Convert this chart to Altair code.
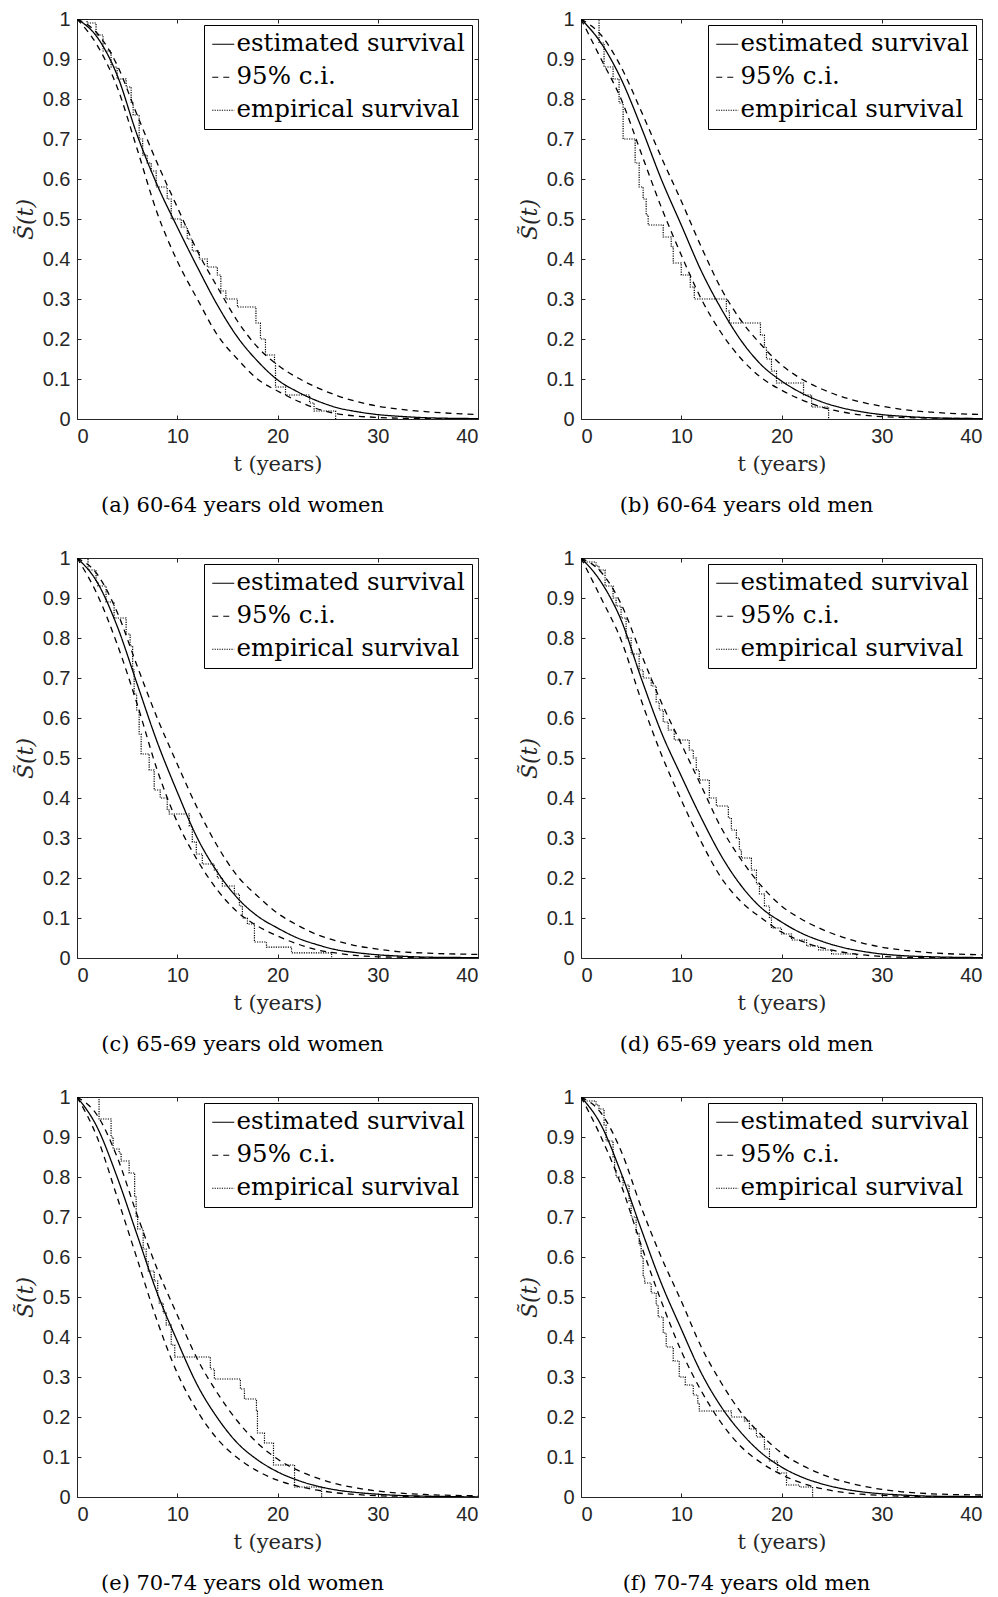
import altair as alt
import pandas as pd

# ---------------- data ----------------
T_SMOOTH = [0, 2, 4, 6, 8, 10, 12, 14, 16, 18, 20, 22, 24, 26, 28, 30, 32, 35, 40]

A_EST = [1.0, 0.955, 0.86, 0.71, 0.585, 0.48, 0.38, 0.285, 0.205, 0.145, 0.098, 0.068, 0.045, 0.028, 0.018, 0.011, 0.007, 0.003, 0.001]
A_LO = [1.0, 0.935, 0.83, 0.675, 0.515, 0.395, 0.30, 0.21, 0.15, 0.10, 0.07, 0.045, 0.025, 0.013, 0.007, 0.004, 0.002, 0.001, 0.0]
A_HI = [1.0, 0.965, 0.885, 0.76, 0.64, 0.53, 0.42, 0.33, 0.245, 0.18, 0.135, 0.103, 0.078, 0.058, 0.043, 0.032, 0.025, 0.018, 0.011]
A_EMP_T = [0, 1.0, 1.9, 2.6, 3.4, 4.0, 4.9, 5.4, 5.6, 6.2, 6.55, 7.0, 7.4, 7.9, 9.0, 9.4, 10.4, 11.0, 11.5, 12.2, 13.0, 14.0, 14.35, 14.85, 16.0, 17.85, 18.3, 18.8, 19.7, 19.8, 20.8, 23.2, 23.65, 25.8]
A_EMP_S = [1.0, 0.99, 0.96, 0.92, 0.88, 0.85, 0.83, 0.79, 0.76, 0.70, 0.66, 0.64, 0.62, 0.58, 0.55, 0.50, 0.48, 0.45, 0.42, 0.40, 0.38, 0.36, 0.32, 0.30, 0.28, 0.24, 0.20, 0.16, 0.14, 0.08, 0.06, 0.04, 0.02, 0.0]

B_EST = [1.0, 0.94, 0.85, 0.73, 0.60, 0.485, 0.37, 0.275, 0.195, 0.135, 0.095, 0.065, 0.043, 0.028, 0.018, 0.011, 0.007, 0.003, 0.001]
B_LO = [1.0, 0.90, 0.80, 0.665, 0.53, 0.41, 0.30, 0.215, 0.15, 0.103, 0.072, 0.048, 0.03, 0.018, 0.01, 0.006, 0.004, 0.002, 0.001]
B_HI = [1.0, 0.96, 0.88, 0.77, 0.655, 0.545, 0.43, 0.325, 0.245, 0.185, 0.135, 0.10, 0.075, 0.056, 0.042, 0.032, 0.024, 0.017, 0.011]
B_EMP_T = [0, 1.8, 2.3, 3.2, 3.8, 4.2, 5.4, 5.8, 6.2, 6.5, 6.7, 8.2, 9.0, 9.2, 10.0, 10.9, 11.3, 14.5, 14.8, 17.9, 18.3, 18.5, 19.0, 19.5, 22.2, 23.0, 24.7]
B_EMP_S = [1.0, 0.94, 0.88, 0.85, 0.79, 0.70, 0.64, 0.58, 0.55, 0.51, 0.485, 0.455, 0.43, 0.39, 0.36, 0.33, 0.30, 0.27, 0.24, 0.21, 0.18, 0.15, 0.12, 0.09, 0.06, 0.03, 0.0]

C_EST = [1.0, 0.94, 0.83, 0.685, 0.54, 0.415, 0.30, 0.215, 0.15, 0.105, 0.075, 0.05, 0.033, 0.02, 0.013, 0.008, 0.005, 0.002, 0.001]
C_LO = [1.0, 0.91, 0.785, 0.635, 0.47, 0.34, 0.245, 0.17, 0.115, 0.08, 0.055, 0.035, 0.02, 0.012, 0.006, 0.003, 0.002, 0.001, 0.0]
C_HI = [1.0, 0.96, 0.865, 0.73, 0.60, 0.485, 0.375, 0.28, 0.205, 0.155, 0.112, 0.082, 0.058, 0.042, 0.03, 0.022, 0.016, 0.012, 0.009]
C_EMP_T = [0, 1.1, 1.9, 2.1, 2.9, 3.7, 4.9, 5.3, 5.55, 5.7, 5.95, 6.2, 6.4, 7.2, 7.7, 8.3, 9.0, 9.2, 11.2, 11.5, 11.9, 12.5, 13.7, 14.0, 14.5, 15.7, 16.2, 16.5, 17.0, 17.7, 18.9, 21.4, 25.4]
C_EMP_S = [1.0, 0.97, 0.94, 0.93, 0.89, 0.85, 0.81, 0.78, 0.72, 0.66, 0.62, 0.56, 0.51, 0.47, 0.42, 0.40, 0.37, 0.36, 0.33, 0.29, 0.26, 0.235, 0.22, 0.20, 0.18, 0.16, 0.13, 0.10, 0.085, 0.04, 0.027, 0.013, 0.0]

D_EST = [1.0, 0.94, 0.845, 0.70, 0.565, 0.455, 0.35, 0.255, 0.18, 0.125, 0.09, 0.062, 0.042, 0.027, 0.017, 0.01, 0.006, 0.003, 0.001]
D_LO = [1.0, 0.90, 0.795, 0.645, 0.51, 0.395, 0.29, 0.20, 0.14, 0.10, 0.065, 0.042, 0.026, 0.015, 0.008, 0.004, 0.002, 0.001, 0.0]
D_HI = [1.0, 0.965, 0.885, 0.76, 0.64, 0.535, 0.43, 0.325, 0.245, 0.18, 0.13, 0.097, 0.072, 0.053, 0.038, 0.027, 0.02, 0.013, 0.008]
D_EMP_T = [0, 0.3, 1.5, 1.8, 2.4, 3.2, 3.5, 4.0, 4.5, 5.0, 5.8, 6.2, 7.0, 7.5, 7.8, 8.2, 8.7, 9.3, 10.8, 11.2, 11.5, 11.8, 12.8, 13.5, 14.7, 15.0, 15.5, 15.8, 16.0, 17.0, 17.5, 17.8, 18.3, 18.8, 19.0, 20.0, 21.0, 22.5, 23.7, 25.0, 27.5]
D_EMP_S = [1.0, 0.99, 0.98, 0.97, 0.93, 0.90, 0.88, 0.85, 0.80, 0.76, 0.72, 0.70, 0.68, 0.64, 0.62, 0.59, 0.57, 0.545, 0.52, 0.50, 0.47, 0.445, 0.40, 0.38, 0.35, 0.32, 0.30, 0.27, 0.25, 0.22, 0.185, 0.16, 0.13, 0.10, 0.075, 0.06, 0.045, 0.03, 0.02, 0.01, 0.0]

E_EST = [1.0, 0.925, 0.80, 0.655, 0.51, 0.39, 0.28, 0.198, 0.135, 0.093, 0.063, 0.042, 0.027, 0.017, 0.011, 0.007, 0.004, 0.002, 0.0]
E_LO = [1.0, 0.90, 0.75, 0.595, 0.44, 0.31, 0.215, 0.145, 0.098, 0.065, 0.042, 0.027, 0.017, 0.01, 0.006, 0.003, 0.002, 0.001, 0.0]
E_HI = [1.0, 0.955, 0.85, 0.705, 0.57, 0.455, 0.345, 0.26, 0.19, 0.135, 0.095, 0.067, 0.047, 0.032, 0.022, 0.015, 0.01, 0.006, 0.003]
E_EMP_T = [0, 2.2, 3.4, 3.6, 4.2, 4.4, 5.2, 5.75, 5.9, 6.05, 6.6, 6.9, 7.1, 7.7, 8.05, 8.2, 8.6, 8.9, 9.4, 9.75, 13.3, 13.7, 16.3, 16.7, 17.9, 18.0, 18.7, 19.6, 21.7, 24.4]
E_EMP_S = [1.0, 0.945, 0.90, 0.87, 0.86, 0.84, 0.81, 0.75, 0.70, 0.67, 0.62, 0.59, 0.565, 0.54, 0.50, 0.485, 0.46, 0.43, 0.38, 0.35, 0.32, 0.295, 0.27, 0.245, 0.215, 0.16, 0.135, 0.08, 0.025, 0.0]

F_EST = [1.0, 0.93, 0.81, 0.67, 0.535, 0.42, 0.31, 0.225, 0.16, 0.11, 0.075, 0.05, 0.033, 0.021, 0.013, 0.008, 0.005, 0.002, 0.001]
F_LO = [1.0, 0.90, 0.78, 0.63, 0.49, 0.365, 0.265, 0.185, 0.125, 0.085, 0.056, 0.035, 0.021, 0.012, 0.007, 0.004, 0.002, 0.001, 0.0]
F_HI = [1.0, 0.96, 0.865, 0.725, 0.60, 0.49, 0.375, 0.285, 0.21, 0.155, 0.11, 0.08, 0.057, 0.04, 0.028, 0.019, 0.013, 0.008, 0.005]
F_EMP_T = [0, 0.3, 1.5, 1.8, 2.3, 2.5, 3.2, 3.35, 3.5, 4.2, 4.8, 5.0, 5.5, 5.8, 6.0, 6.2, 6.35, 7.0, 7.5, 7.7, 8.2, 8.5, 9.2, 9.8, 10.4, 11.2, 11.65, 11.8, 15.0, 16.3, 16.8, 17.5, 18.3, 18.8, 19.6, 20.5, 21.8, 23.1]
F_EMP_S = [1.0, 0.99, 0.98, 0.97, 0.93, 0.89, 0.85, 0.82, 0.80, 0.78, 0.74, 0.70, 0.66, 0.63, 0.60, 0.55, 0.535, 0.51, 0.48, 0.45, 0.41, 0.375, 0.34, 0.30, 0.28, 0.255, 0.235, 0.215, 0.20, 0.19, 0.17, 0.15, 0.12, 0.09, 0.06, 0.03, 0.025, 0.0]

CAPTIONS = [
    "(a) 60-64 years old women",
    "(b) 60-64 years old men",
    "(c) 65-69 years old women",
    "(d) 65-69 years old men",
    "(e) 70-74 years old women",
    "(f) 70-74 years old men",
]
SERIES = ["estimated survival", "95% c.i.", "empirical survival"]
X_TICKS = [0, 10, 20, 30, 40]
Y_TICKS = [0, 0.1, 0.2, 0.3, 0.4, 0.5, 0.6, 0.7, 0.8, 0.9, 1]

# ---------------- styling ----------------
W, H = 401, 400
AX = "#262626"
SANS = "Liberation Sans"
SERIF = "DejaVu Serif"
DASHES = [[1, 0], [6, 5], [1.2, 1.2]]


def legend():
    return alt.Legend(
        title=None, orient="top-right", offset=6,
        symbolType="stroke", symbolSize=484, symbolStrokeWidth=1.2,
        symbolStrokeColor="black",
        labelFont=SERIF, labelFontSize=24.5, labelColor="black", labelOffset=1,
        labelLimit=0,
        strokeColor="black", fillColor="white", padding=7, rowPadding=8,
        cornerRadius=0,
    )


def panel(caption, est, lo, hi, et, es):
    n = len(T_SMOOTH)
    smooth = pd.DataFrame({
        "t": T_SMOOTH * 3,
        "S": est + lo + hi,
        "series": [SERIES[0]] * n + [SERIES[1]] * (2 * n),
        "curve": ["est"] * n + ["lo"] * n + ["hi"] * n,
    })
    emp = pd.DataFrame({"t": et, "S": es, "series": [SERIES[2]] * len(et)})

    xs = alt.Scale(domain=[0, 40], nice=False, zero=False)
    ys = alt.Scale(domain=[0, 1], nice=False, zero=False)
    dash = alt.StrokeDash("series:N", scale=alt.Scale(domain=SERIES, range=DASHES), legend=legend())

    x_lab = alt.Axis(orient="bottom", values=X_TICKS, ticks=False, tickSize=0, domain=False, grid=False,
                     labelFont=SANS, labelFontSize=20, labelColor=AX, labelPadding=7,
                     title="t (years)", titleFont=SERIF, titleFontSize=21, titleFontWeight="normal",
                     titleColor=AX, titlePadding=7)
    y_lab = alt.Axis(orient="left", values=Y_TICKS, format="~g", ticks=False, tickSize=0, domain=False, grid=False,
                     labelFont=SANS, labelFontSize=20, labelColor=AX, labelPadding=7,
                     title="S\u0303(t)", titleFont=SERIF, titleFontSize=22, titleFontWeight="normal",
                     titleFontStyle="italic", titleColor=AX, titlePadding=5)
    tick_common = dict(labels=False, domain=True, domainColor=AX, domainWidth=1, grid=False,
                       ticks=True, tickSize=4, tickColor=AX, tickWidth=1, title=None)
    x_in_bottom = alt.Axis(orient="top", offset=-H, values=X_TICKS, **tick_common)
    x_in_top = alt.Axis(orient="bottom", offset=-H, values=X_TICKS, **tick_common)
    y_in_left = alt.Axis(orient="right", offset=-W, values=Y_TICKS, **tick_common)
    y_in_right = alt.Axis(orient="left", offset=-W, values=Y_TICKS, **tick_common)

    smooth_layer = alt.Chart(smooth).mark_line(
        color="black", strokeWidth=1.3, interpolate="monotone", clip=True
    ).encode(
        x=alt.X("t:Q", scale=xs, axis=x_lab),
        y=alt.Y("S:Q", scale=ys, axis=y_lab),
        strokeDash=dash,
        detail="curve:N",
    )
    emp_layer = alt.Chart(emp).mark_line(
        color="black", strokeWidth=1.2, interpolate="step-after", clip=True
    ).encode(
        x=alt.X("t:Q", scale=xs, axis=x_in_bottom),
        y=alt.Y("S:Q", scale=ys, axis=y_in_left),
        strokeDash=dash,
    )
    frame_layer = alt.Chart(emp).mark_point(opacity=0).encode(
        x=alt.X("t:Q", scale=xs, axis=x_in_top),
        y=alt.Y("S:Q", scale=ys, axis=y_in_right),
    )
    return alt.layer(smooth_layer, emp_layer, frame_layer).resolve_axis(
        x="independent", y="independent"
    ).properties(
        width=W, height=H,
        title=alt.Title(caption, orient="bottom", anchor="middle", frame="group",
                        font=SERIF, fontSize=21, fontWeight="normal", color="black",
                        offset=21, dx=-35),
    )


DATA = [
    (A_EST, A_LO, A_HI, A_EMP_T, A_EMP_S),
    (B_EST, B_LO, B_HI, B_EMP_T, B_EMP_S),
    (C_EST, C_LO, C_HI, C_EMP_T, C_EMP_S),
    (D_EST, D_LO, D_HI, D_EMP_T, D_EMP_S),
    (E_EST, E_LO, E_HI, E_EMP_T, E_EMP_S),
    (F_EST, F_LO, F_HI, F_EMP_T, F_EMP_S),
]
panels = [panel(CAPTIONS[i], *DATA[i]) for i in range(6)]

rows = [
    alt.hconcat(panels[2 * r], panels[2 * r + 1], spacing=38).resolve_scale(strokeDash="independent").resolve_legend(strokeDash="independent")
    for r in range(3)
]
chart = alt.vconcat(*rows, spacing=30).resolve_scale(strokeDash="independent").resolve_legend(
    strokeDash="independent"
).properties(
    padding={"top": 0, "left": 5, "right": 5, "bottom": 2}
).configure_view(stroke=AX, strokeWidth=1).configure(background="white")

chart.save("out.html", embed_options={"renderer": "svg", "actions": False})
